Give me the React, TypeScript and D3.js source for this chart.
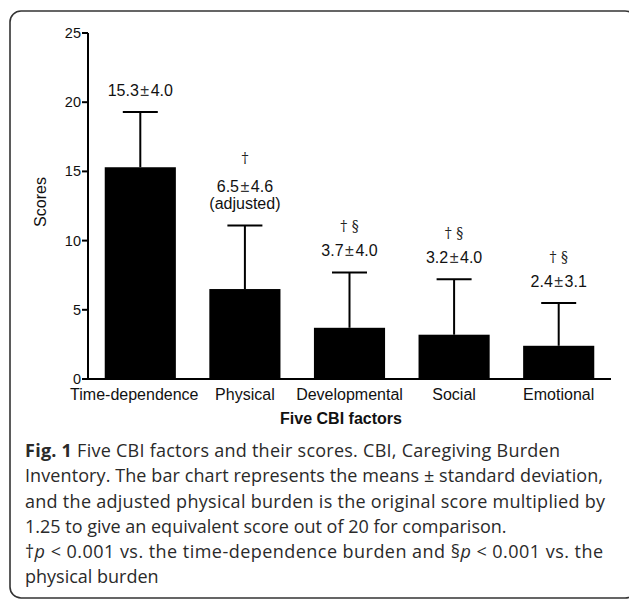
import React from 'react';
import {scaleBand, scaleLinear} from 'd3';

// chart data
const categories = ['Time-dependence', 'Physical', 'Developmental', 'Social', 'Emotional'];
const means = [15.3, 6.5, 3.7, 3.2, 2.4];
const sds = [4.0, 4.6, 4.0, 4.0, 3.1];
const marks = ['', '†', '† §', '† §', '† §'];
const notes = ['', '(adjusted)', '', '', ''];
const yTicks = [0, 5, 10, 15, 20, 25];

const W = 629;
const H = 601;
const sans = 'Liberation Sans, Arial, Helvetica, sans-serif';
const capFont = 'Open Sans, Noto Sans, sans-serif';

const App = () => {
    const x = scaleBand<string>()
        .domain(categories)
        .range([88, 611])
        .paddingInner(0.32)
        .paddingOuter(0.16);

    const y = scaleLinear().domain([0, 25]).range([379, 33]);

    const bw = x.bandwidth();
    const capW = 35;

    return (
        <svg width={W} height={H} style={{position: 'absolute', left: 0, top: 0}} fontFamily={sans}>
            <rect x={0} y={0} width={W} height={H} fill="#fff"/>
            {/* figure frame */}
            <rect x={10} y={11} width={626} height={587} rx={11} fill="none" stroke="#333" strokeWidth={1.6}/>

            {/* bars + error bars (upper only) */}
            {means.map((m, i) => {
                const cx = x(categories[i])! + bw / 2;
                const top = y(m + sds[i]);
                return (
                    <g key={categories[i]}>
                        <line x1={cx} x2={cx} y1={y(m)} y2={top} stroke="#000" strokeWidth={2}/>
                        <line x1={cx - capW / 2} x2={cx + capW / 2} y1={top} y2={top} stroke="#000" strokeWidth={2}/>
                        <rect x={x(categories[i])} y={y(m)} width={bw} height={y(0) - y(m)} fill="#000"/>
                    </g>
                );
            })}

            {/* value labels */}
            {means.map((m, i) => {
                const cx = x(categories[i])! + bw / 2;
                const top = y(m + sds[i]);
                const nLines = notes[i] ? 2 : 1;
                const base = top - 16;
                const first = base - (nLines - 1) * 17;
                return (
                    <g key={'lab' + i} textAnchor="middle" fill="#111">
                        <text x={cx} y={first} fontSize={16}>
                            {m.toFixed(1)}
                            <tspan dx={1.5} fill="#333">±</tspan>
                            <tspan dx={1.5}>{sds[i].toFixed(1)}</tspan>
                        </text>
                        {notes[i] && <text x={cx} y={first + 17} fontSize={16}>{notes[i]}</text>}
                        {marks[i] && (
                            <text x={cx} y={first - (nLines > 1 ? 29 : 25)} fontSize={14} fill="#222"
                                  fontFamily="DejaVu Serif, Liberation Serif, serif">{marks[i]}</text>
                        )}
                    </g>
                );
            })}

            {/* y axis */}
            <line x1={88} x2={88} y1={y(25)} y2={y(0) + 1} stroke="#000" strokeWidth={2}/>
            {yTicks.map(t => (
                <g key={t} transform={`translate(0,${y(t)})`}>
                    <line x1={82} x2={88} stroke="#000" strokeWidth={2}/>
                    <text x={81} dy="0.35em" textAnchor="end" fontSize={14.5} fill="#111">{t}</text>
                </g>
            ))}
            <text transform={`translate(46,${(y(0) + y(25)) / 2 - 4}) rotate(-90)`} textAnchor="middle"
                  fontSize={16} fill="#111">Scores</text>

            {/* x axis */}
            <line x1={87} x2={611} y1={y(0)} y2={y(0)} stroke="#000" strokeWidth={2}/>
            {categories.map((c, i) => (
                <text key={c} x={x(c)! + bw / 2 + (i === 0 ? -6 : 0)} y={400} textAnchor="middle"
                      fontSize={16} fill="#111">{c}</text>
            ))}
            <text x={341} y={424} textAnchor="middle" fontSize={16} fontWeight="bold" fill="#111">Five CBI factors</text>

            {/* caption */}
            <g fontFamily={capFont} fontSize={18} fill="#2a2a2a">
                <text x={25} y={457} textLength={535} lengthAdjust="spacing">
                    <tspan fontWeight="bold">Fig. 1</tspan> Five CBI factors and their scores. CBI, Caregiving Burden
                </text>
                <text x={25} y={482} textLength={578} lengthAdjust="spacing">Inventory. The bar chart represents the means ± standard deviation,</text>
                <text x={25} y={507.5} textLength={580} lengthAdjust="spacing">and the adjusted physical burden is the original score multiplied by</text>
                <text x={25} y={532.5}>1.25 to give an equivalent score out of 20 for comparison.</text>
                <text x={25} y={558} textLength={578} lengthAdjust="spacing">
                    †<tspan fontStyle="italic">p</tspan> &lt; 0.001 vs. the time-dependence burden and §<tspan
                    fontStyle="italic">p</tspan> &lt; 0.001 vs. the
                </text>
                <text x={25} y={583}>physical burden</text>
            </g>
        </svg>
    );
};

export default App;
